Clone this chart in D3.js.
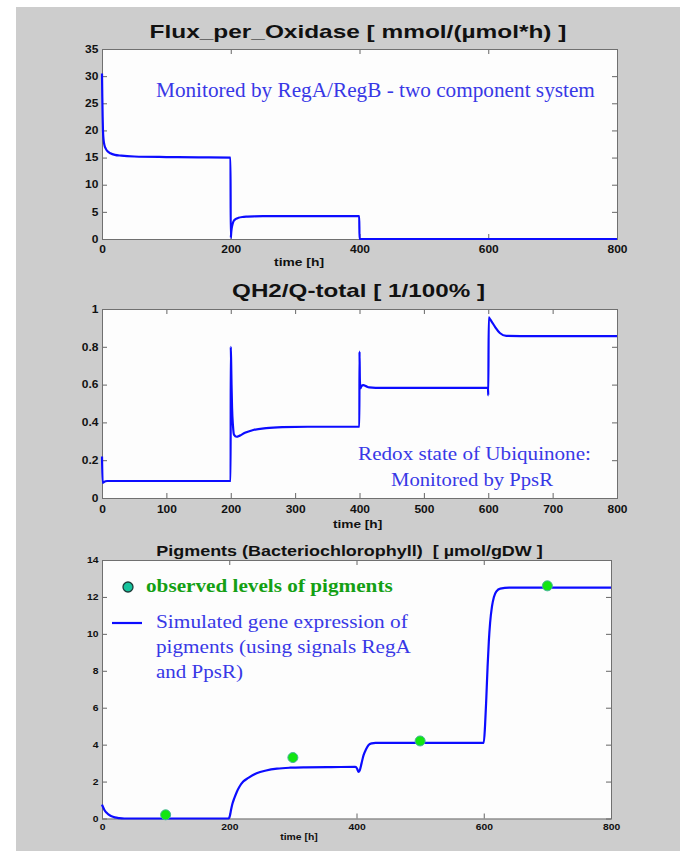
<!DOCTYPE html>
<html>
<head>
<meta charset="utf-8">
<script src="https://cdn.jsdelivr.net/npm/d3@7"></script>
<style>
  html, body { margin: 0; padding: 0; background: #ffffff; }
  svg { display: block; }
  text { white-space: pre; }
</style>
</head>
<body>
<svg id="fig" width="680" height="851"></svg>
<script>
// ---- Flux per oxidase (mmol/(µmol*h)) over time [h]
const fluxTime  = [0, 0.5, 1, 1.5, 2.5, 4, 6, 9, 13, 20, 30, 50, 100, 150, 199.6,
                   200, 200.8, 201.5, 203, 205, 208, 212, 218, 226, 236, 250, 300, 399.6,
                   400, 800];
const fluxValue = [30.5, 26, 22.5, 20, 18.2, 17.2, 16.6, 16.1, 15.8, 15.5, 15.35, 15.2, 15.1, 15.05, 15.0,
                   0.2, 1.3, 2.0, 2.8, 3.4, 3.7, 3.9, 4.05, 4.12, 4.18, 4.2, 4.2, 4.2,
                   0, 0];

// ---- Redox state QH2/Q-total
const redoxTime  = [0, 1, 3, 8, 15, 199.8,
                    200, 200.6, 201.2, 202, 203.5, 205, 209, 214, 222, 235, 255, 280, 320, 399.8,
                    400, 400.6, 401.5, 403, 406, 410, 415, 425, 450, 599.6,
                    600, 600.8, 602, 605, 610.5, 618, 628, 650, 700, 800];
const redoxValue = [0.22, 0.08, 0.085, 0.09, 0.09, 0.09,
                    0.80, 0.72, 0.60, 0.48, 0.38, 0.335, 0.324, 0.33, 0.345, 0.36, 0.37, 0.375, 0.377, 0.377,
                    0.775, 0.62, 0.58, 0.592, 0.597, 0.592, 0.585, 0.583, 0.583, 0.583,
                    0.543, 0.956, 0.95, 0.935, 0.906, 0.873, 0.858, 0.857, 0.857, 0.857];

// ---- Simulated pigment level (µmol/gDW)
const pigTime  = [0, 2, 4, 7, 10, 15, 20, 27, 35, 199,
                  201, 203, 205, 208, 212, 216, 222, 230, 243, 258, 275, 295, 320, 360, 398,
                  401, 403, 405, 408, 411, 415, 419, 424, 430, 440, 500, 598,
                  600, 602, 604, 606, 608, 610, 613, 616, 620, 626, 640, 800];
const pigValue = [0.75, 0.6, 0.45, 0.32, 0.22, 0.12, 0.06, 0.02, 0.0, 0.0,
                  0.15, 0.5, 0.8, 1.1, 1.45, 1.72, 2.0, 2.2, 2.45, 2.6, 2.7, 2.75, 2.77, 2.78, 2.8,
                  2.7, 2.53, 2.6, 3.0, 3.42, 3.75, 3.98, 4.07, 4.1, 4.1, 4.1, 4.1,
                  4.1, 5.0, 6.5, 8.2, 9.6, 10.6, 11.5, 12.0, 12.3, 12.45, 12.5, 12.5];

// ---- Observed pigment levels
const obsTime  = [100, 300, 500, 700];
const obsValue = [0.2, 3.3, 4.2, 12.6];

// ---- Tick values
const timeTicks200 = [0, 200, 400, 600, 800];
const timeTicks100 = [0, 100, 200, 300, 400, 500, 600, 700, 800];
const fluxTicks    = [0, 5, 10, 15, 20, 25, 30, 35];
const redoxTicks   = [0, 0.2, 0.4, 0.6, 0.8, 1];
const pigTicks     = [0, 2, 4, 6, 8, 10, 12, 14];

// ---- Labels
const titles = [
  "Flux_per_Oxidase [ mmol/(\u00b5mol*h) ]",
  "QH2/Q-total [ 1/100% ]",
  "Pigments (Bacteriochlorophyll)  [ \u00b5mol/gDW ]"
];
const timeLabel = "time [h]";
const fluxNote  = "Monitored by RegA/RegB - two component system";
const redoxNote = ["Redox state of Ubiquinone:", "Monitored by PpsR"];
const legendObs = "observed levels of pigments";
const legendSim = ["Simulated gene expression of", "pigments (using signals RegA", "and PpsR)"];

const SANS  = "'Liberation Sans', Arial, Helvetica, sans-serif";
const SERIF = "'Liberation Serif', 'Times New Roman', serif";
const LINE_BLUE = "#0c0cff";
const NOTE_BLUE = "#3838e6";

const svg = d3.select("#fig");

// figure background
svg.append("rect")
  .attr("x", 16).attr("y", 7).attr("width", 664).attr("height", 844)
  .attr("fill", "#cdcdcd");

// Text that is stretched horizontally to span a given width
function wideText(parent, str, o) {
  const t = parent.append("text")
    .text(str)
    .attr("font-family", o.family || SANS)
    .attr("font-weight", o.weight || "normal")
    .attr("font-size", o.size)
    .attr("fill", o.fill || "#111")
    .attr("text-anchor", o.anchor || "start");
  let s = o.sx || 1;
  if (o.width) {
    const w = t.node().getComputedTextLength();
    if (w > 0) s = o.width / w;
  }
  t.attr("transform", `translate(${o.x},${o.y}) scale(${s},1)`);
  return t;
}

function drawPanel(cfg) {
  const g = svg.append("g");
  const x = d3.scaleLinear().domain([0, 800]).range([cfg.left, cfg.right]);
  const y = d3.scaleLinear().domain(cfg.yDomain).range([cfg.bottom, cfg.top]);

  g.append("rect")
    .attr("x", cfg.left).attr("y", cfg.top)
    .attr("width", cfg.right - cfg.left).attr("height", cfg.bottom - cfg.top)
    .attr("fill", "#fdfdfd");

  const styleAxis = (sel) => {
    sel.select(".domain").remove();
    sel.selectAll(".tick line").attr("stroke", "#666");
    sel.selectAll(".tick text")
      .attr("fill", "#111")
      .attr("font-family", SANS)
      .attr("font-weight", "bold")
      .attr("font-size", cfg.tickSize)
      .attr("transform", `scale(${cfg.tickStretch},1)`);
  };

  g.append("g").attr("transform", `translate(0,${cfg.bottom})`)
    .call(d3.axisBottom(x).tickValues(cfg.xTicks).tickSizeInner(-5).tickSizeOuter(0)
      .tickPadding(cfg.xPad).tickFormat(d3.format("d")))
    .call(styleAxis);
  g.append("g").attr("transform", `translate(0,${cfg.top})`)
    .call(d3.axisTop(x).tickValues(cfg.xTicks).tickSizeInner(-5).tickSizeOuter(0).tickFormat(() => ""))
    .call(styleAxis);
  g.append("g").attr("transform", `translate(${cfg.left},0)`)
    .call(d3.axisLeft(y).tickValues(cfg.yTicks).tickSizeInner(-5).tickSizeOuter(0)
      .tickPadding(cfg.yPad).tickFormat(cfg.yFormat))
    .call(styleAxis);
  g.append("g").attr("transform", `translate(${cfg.right},0)`)
    .call(d3.axisRight(y).tickValues(cfg.yTicks).tickSizeInner(-5).tickSizeOuter(0).tickFormat(() => ""))
    .call(styleAxis);

  g.append("rect")
    .attr("x", cfg.left + 0.5).attr("y", cfg.top + 0.5)
    .attr("width", cfg.right - cfg.left).attr("height", cfg.bottom - cfg.top)
    .attr("fill", "none").attr("stroke", "#707070").attr("stroke-width", 1);

  // series line
  const pts = cfg.time.map((t, i) => [t, cfg.value[i]]);
  g.append("path")
    .datum(pts)
    .attr("fill", "none")
    .attr("stroke", LINE_BLUE)
    .attr("stroke-width", 2.2)
    .attr("stroke-linejoin", "round")
    .attr("d", d3.line().x(d => x(d[0])).y(d => y(d[1])).curve(d3.curveMonotoneX));

  // title and time label
  wideText(g, cfg.title, { x: cfg.titleX, y: cfg.titleY, width: cfg.titleW, size: cfg.titleSize,
    weight: "bold", anchor: "middle" });
  wideText(g, timeLabel, { x: cfg.timeX, y: cfg.timeY, width: cfg.timeW, size: cfg.timeSize,
    weight: "bold", anchor: "middle" });

  return { g, x, y };
}

const fmt1 = d => (d === 0 || d === 1) ? String(d) : d.toFixed(1);

// ---- Panel 1: flux per oxidase
const p1 = drawPanel({
  left: 102, right: 617, top: 49, bottom: 239,
  yDomain: [0, 35], xTicks: timeTicks200, yTicks: fluxTicks, yFormat: d3.format("d"),
  tickSize: 10, tickStretch: 1.2, xPad: 7, yPad: 3,
  time: fluxTime, value: fluxValue,
  title: titles[0], titleX: 358, titleY: 37.5, titleW: 417, titleSize: 18,
  timeX: 299, timeY: 266, timeW: 50, timeSize: 11
});
wideText(p1.g, fluxNote, { x: 156, y: 97, width: 439, size: 20, family: SERIF, fill: NOTE_BLUE });

// ---- Panel 2: redox state
const p2 = drawPanel({
  left: 102, right: 617, top: 309, bottom: 498,
  yDomain: [0, 1], xTicks: timeTicks100, yTicks: redoxTicks, yFormat: fmt1,
  tickSize: 10, tickStretch: 1.2, xPad: 8, yPad: 3,
  time: redoxTime, value: redoxValue,
  title: titles[1], titleX: 358.5, titleY: 297, titleW: 253, titleSize: 18,
  timeX: 357.6, timeY: 528, timeW: 49.4, timeSize: 11
});
wideText(p2.g, redoxNote[0], { x: 474.5, y: 460, width: 233, size: 19, family: SERIF,
  fill: NOTE_BLUE, anchor: "middle" });
wideText(p2.g, redoxNote[1], { x: 472, y: 486, width: 162, size: 19, family: SERIF,
  fill: NOTE_BLUE, anchor: "middle" });

// ---- Panel 3: pigments
const p3 = drawPanel({
  left: 102, right: 611, top: 560, bottom: 818.5,
  yDomain: [0, 14], xTicks: timeTicks200, yTicks: pigTicks, yFormat: d3.format("d"),
  tickSize: 9, tickStretch: 1.15, xPad: 5, yPad: 3,
  time: pigTime, value: pigValue,
  title: titles[2], titleX: 349.5, titleY: 556, titleW: 387, titleSize: 15.5,
  timeX: 299, timeY: 840, timeW: 37.6, timeSize: 9
});

// observed levels
p3.g.selectAll("circle.obs")
  .data(obsTime.map((t, i) => [t, obsValue[i]]))
  .join("circle")
  .attr("class", "obs")
  .attr("cx", d => p3.x(d[0]))
  .attr("cy", d => p3.y(d[1]))
  .attr("r", 5)
  .attr("fill", "#12e612")
  .attr("stroke", "#45b59a")
  .attr("stroke-width", 1);

// legend
const lg = p3.g.append("g");
lg.append("circle")
  .attr("cx", 128).attr("cy", 587).attr("r", 5)
  .attr("fill", "#16c39c").attr("stroke", "#1d3b38").attr("stroke-width", 1.3);
wideText(lg, legendObs, { x: 146, y: 592, width: 247, size: 18, family: SERIF,
  weight: "bold", fill: "#14a014" });
lg.append("line")
  .attr("x1", 112).attr("x2", 142).attr("y1", 623).attr("y2", 623)
  .attr("stroke", LINE_BLUE).attr("stroke-width", 2.2);
const simWidths = [252, 255, 87];
legendSim.forEach((s, i) => {
  wideText(lg, s, { x: 156, y: 628 + i * 25, width: simWidths[i], size: 18, family: SERIF,
    fill: NOTE_BLUE });
});
</script>
</body>
</html>
